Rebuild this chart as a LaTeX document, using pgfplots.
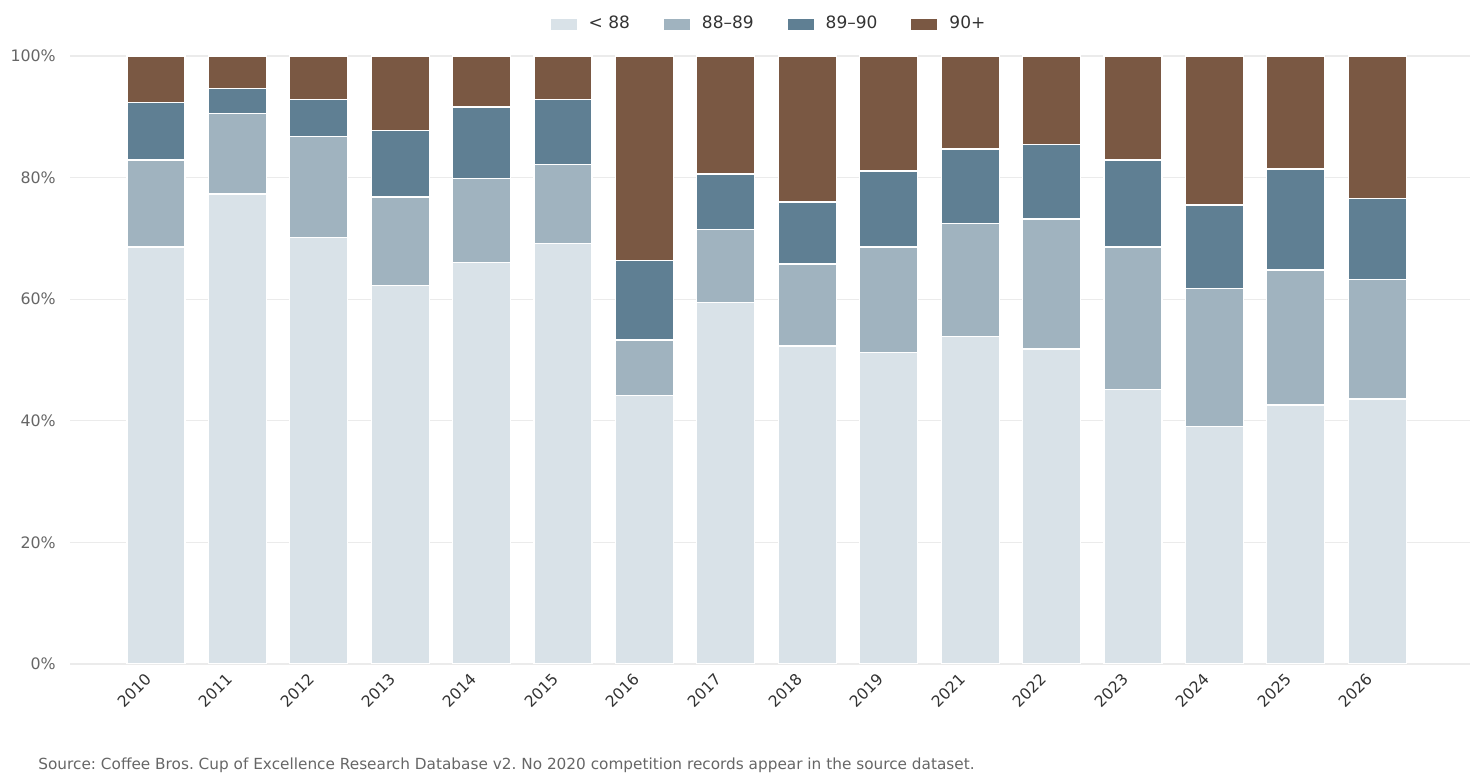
\documentclass[border=0pt]{standalone}
\usepackage{pgfplots}
\pgfplotsset{compat=1.18}
\usepackage{fontspec}
\setmainfont{DejaVu Sans}
\definecolor{cA}{HTML}{D9E2E8}
\definecolor{cB}{HTML}{A0B3BF}
\definecolor{cC}{HTML}{5F7F93}
\definecolor{cD}{HTML}{7A5843}
\definecolor{gridc}{HTML}{EBEBEB}
\definecolor{tickc}{HTML}{666666}
\definecolor{legc}{HTML}{333333}
\begin{document}
\frenchspacing
\begin{tikzpicture}[x=1pt,y=1pt]
\useasboundingbox (0,0) rectangle (740,391);
\begin{axis}[
  at={(35pt,59pt)}, anchor=south west,
  scale only axis, width=700pt, height=304pt,
  ybar stacked, bar width=29pt,
  xmin=-1.056, xmax=16.14,
  ymin=0, ymax=100,
  xtick={0,...,15},
  xticklabels={2010,2011,2012,2013,2014,2015,2016,2017,2018,2019,2021,2022,2023,2024,2025,2026},
  x tick label style={rotate=45, anchor=north east, font=\fontsize{7.8}{9}\selectfont, text=legc, inner sep=1pt, yshift=2.6pt, xshift=-5.8pt},
  ytick={0,20,40,60,80,100},
  yticklabels={0\%,20\%,40\%,60\%,80\%,100\%},
  y tick label style={font=\fontsize{7.9}{9}\selectfont, text=tickc, xshift=-3.6pt},
  /pgf/number format/assume math mode=true,
  axis line style={draw=none},
  major tick length=0pt,
  ymajorgrids, grid style={gridc, line width=0.6pt},
  legend columns=4,
  legend style={draw=none, fill=none, at={(0.5,1.0526)}, anchor=center,
    font=\fontsize{8.5}{10}\selectfont, text=legc,
    /tikz/every odd column/.append style={column sep=4pt},
    /tikz/every even column/.append style={column sep=15pt}},
  legend image code/.code={\fill[#1, draw=none] (0pt,-2.75pt) rectangle (13pt,2.75pt);},
  every axis plot/.append style={draw=white, line width=0.6pt},
]
\addplot[fill=cA] coordinates {(0,68.6) (1,77.3) (2,70.2) (3,62.3) (4,66.0) (5,69.2) (6,44.2) (7,59.5) (8,52.3) (9,51.2) (10,53.8) (11,51.8) (12,45.1) (13,39.1) (14,42.6) (15,43.6)};
\addplot[fill=cB] coordinates {(0,14.3) (1,13.3) (2,16.6) (3,14.5) (4,13.9) (5,12.9) (6,9.1) (7,12.0) (8,13.5) (9,17.4) (10,18.6) (11,21.4) (12,23.5) (13,22.7) (14,22.2) (15,19.6)};
\addplot[fill=cC] coordinates {(0,9.5) (1,4.1) (2,6.0) (3,10.9) (4,11.7) (5,10.8) (6,13.0) (7,9.1) (8,10.2) (9,12.5) (10,12.3) (11,12.3) (12,14.3) (13,13.7) (14,16.6) (15,13.4)};
\addplot[fill=cD] coordinates {(0,7.6) (1,5.3) (2,7.2) (3,12.3) (4,8.4) (5,7.1) (6,33.7) (7,19.4) (8,24.0) (9,18.9) (10,15.3) (11,14.5) (12,17.1) (13,24.5) (14,18.6) (15,23.4)};
\legend{< 88, 88–89, 89–90, 90+}
\end{axis}
\node[anchor=west, inner sep=0pt, font=\fontsize{7.65}{9}\selectfont, text=tickc] at (19,8.5) {Source: Coffee Bros. Cup of Excellence Research Database v2. No 2020 competition records appear in the source dataset.};
\end{tikzpicture}
\end{document}
